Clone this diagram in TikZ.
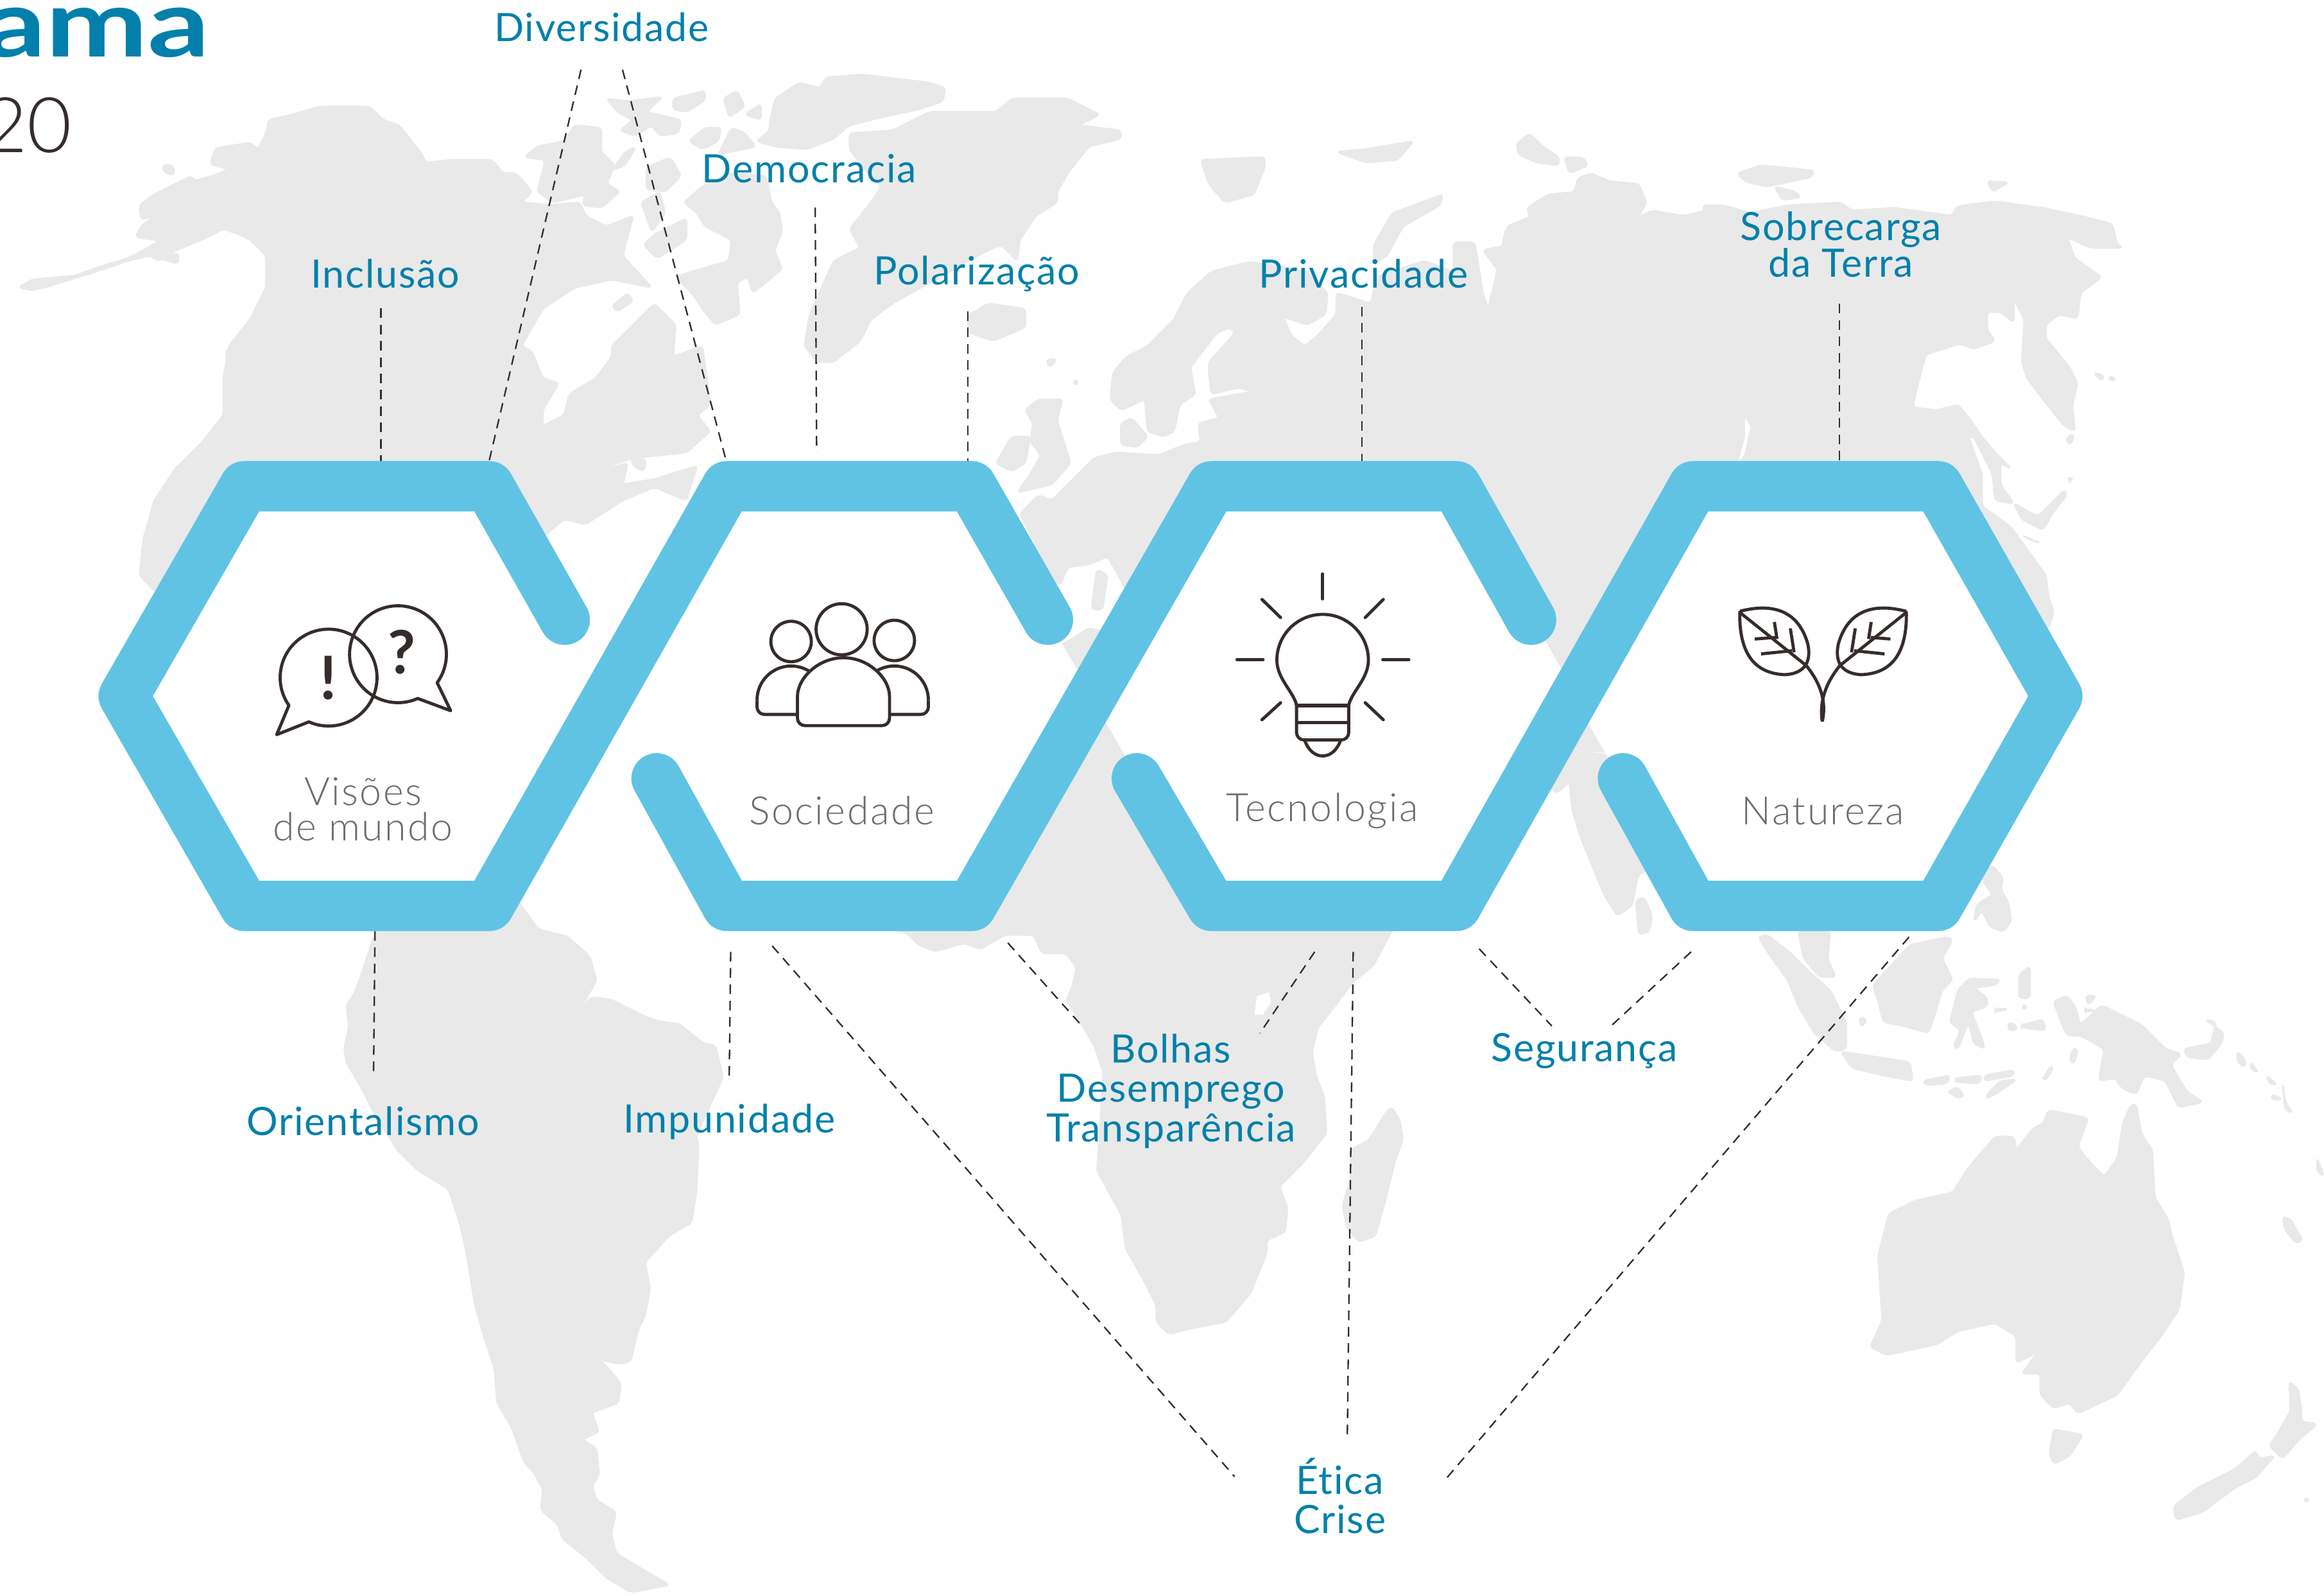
\documentclass[tikz,border=0pt]{standalone}
\usepackage{fontspec}
\newfontfamily\labelfont[LetterSpace=3,Ligatures=NoCommon]{Lato}
\newfontfamily\themefont[LetterSpace=4,Ligatures=NoCommon]{Lato Light}
\newfontfamily\titlefont[FakeStretch=1.3]{Lato}
\newfontfamily\yearfont{Lato Light}
\newfontfamily\markfont{Lato}
\definecolor{mapgray}{HTML}{E9E9E9}
\definecolor{bandblue}{HTML}{60C3E4}
\definecolor{labelblue}{HTML}{0280AB}
\definecolor{hexgray}{HTML}{6F6B6B}
\definecolor{inkdark}{HTML}{352D2B}
\tikzset{
  land/.style={fill=mapgray,draw=mapgray,line width=.25mm,line join=round,rounded corners=.5mm},
  sea/.style={fill=white},
  band/.style={draw=bandblue,line width=6.8mm,line join=round,line cap=round},
  hexfill/.style={fill=white},
  link/.style={draw=inkdark,line width=.2mm,dash pattern=on 1.3mm off .9mm},
  topic/.style={text=labelblue,font=\labelfont\fontsize{15}{15.2}\selectfont,align=center,inner sep=0pt},
  theme/.style={text=hexgray,font=\themefont\fontsize{15}{13.6}\selectfont,align=center,inner sep=0pt},
  icon/.style={draw=inkdark,line width=.42mm,line join=round},
  punct/.style={text=inkdark,font=\markfont\bfseries\fontsize{23}{23}\selectfont,inner sep=0pt},
}
\begin{document}
\begin{tikzpicture}[x=.2mm,y=-.2mm]
\useasboundingbox (0,0) rectangle (1568,1076.5);
% map: north america and arctic
\begin{scope}[shift={(0,21.65)},scale=.359]
\fill[land](35,480)--(60,465)--(92,462)--(140,458)--(190,440)--(240,425)--(270,410)--(300,392)--(255,385)--(265,365)--(292,345)--(265,352)--(262,325)--(290,305)--(330,285)--(360,270)--(365,280)--(400,270)--(430,258)--(395,248)--(405,218)--(470,208)--(485,220)--(500,190)--(505,165)--(550,155)--(600,140)--(695,140)--(720,165)--(750,175)--(790,225)--(800,245)--(850,240)--(925,240)--(945,265)--(970,265)--(1000,300)--(980,320)--(1035,325)--(1090,320)--(1100,345)--(1140,365)--(1190,345)--(1170,420)--(1225,480)--(1150,465)--(1080,480)--(1020,520)--(980,590)--(1000,600)--(1020,650)--(1050,660)--(1020,710)--(1020,740)--(1060,720)--(1070,680)--(1120,650)--(1150,610)--(1150,590)--(1190,550)--(1230,510)--(1270,550)--(1265,610)--(1320,590)--(1335,700)--(1310,720)--(1335,750)--(1290,790)--(1190,800)--(1100,830)--(1180,810)--(1170,850)--(1230,840)--(1310,815)--(1290,880)--(1230,855)--(1170,880)--(1100,925)--(1060,915)--(1025,945)--(800,1100)--(290,1050)--(262,1020)--(270,950)--(290,880)--(330,820)--(380,770)--(420,720)--(420,650)--(430,590)--(470,540)--(500,480)--(500,420)--(470,390)--(450,380)--(420,370)--(380,390)--(330,410)--(300,430)--(280,420)--(240,430)--(180,450)--(90,478)--(60,485)--cycle;
\fill[land](985,235)--(1010,215)--(1060,205)--(1080,175)--(1130,180)--(1130,225)--(1155,250)--(1140,285)--(1165,300)--(1130,330)--(1095,325)--(1100,305)--(1040,320)--(1010,300)--(1025,240)--cycle;
\fill[land](1140,125)--(1180,130)--(1245,122)--(1215,150)--(1280,165)--(1275,190)--(1240,195)--(1225,175)--(1195,195)--(1165,185)--(1190,165)--(1160,150)--cycle;
\fill[land](1265,125)--(1325,110)--(1325,128)--(1290,150)--(1265,145)--cycle;
\fill[land](1360,125)--(1385,110)--(1400,140)--(1370,160)--cycle;
\fill[land](1400,155)--(1430,135)--(1430,165)--cycle;
\fill[land](1295,205)--(1325,180)--(1355,180)--(1350,205)--(1320,220)--cycle;
\fill[land](1375,180)--(1400,190)--(1420,215)--(1350,230)--cycle;
\fill[land](1215,255)--(1260,235)--(1280,270)--(1250,300)--(1215,295)--cycle;
\fill[land](1205,320)--(1240,300)--(1250,340)--(1225,375)--cycle;
\fill[land](1230,380)--(1290,350)--(1290,390)--(1235,425)--(1210,400)--cycle;
\fill[land](1150,260)--(1175,225)--(1195,215)--(1175,250)--cycle;
\fill[land](1150,515)--(1180,490)--(1190,505)--(1160,525)--cycle;
\fill[land](1285,320)--(1320,290)--(1370,265)--(1440,270)--(1450,320)--(1465,340)--(1470,375)--(1455,410)--(1470,445)--(1415,490)--(1405,460)--(1385,470)--(1390,530)--(1345,550)--(1320,520)--(1300,490)--(1270,460)--(1300,450)--(1370,430)--(1375,390)--(1325,365)--(1310,340)--cycle;
\fill[sea](1330,410)--(1355,392)--(1360,405)--(1340,422)--cycle;
\fill[land](1185,795)--(1215,805)--(1210,825)--(1190,815)--cycle;
\fill[land](425,600)--(455,565)--(445,590)--(425,615)--cycle;
\fill[land](305,250)--(325,250)--(328,268)--(310,265)--cycle;
\fill[land](300,425)--(335,415)--(335,435)--cycle;
\end{scope}
% map: greenland, europe, russia
\begin{scope}[shift={(476.3,21.65)},scale=.359]
\fill[land](120,170)--(130,125)--(175,95)--(215,105)--(225,85)--(295,80)--(420,95)--(450,105)--(445,130)--(400,145)--(330,160)--(270,175)--(240,200)--(190,220)--(130,215)--(95,205)--(120,185)--cycle;
\fill[land](270,190)--(350,185)--(420,150)--(545,150)--(575,125)--(680,125)--(740,155)--(700,175)--(780,185)--(780,200)--(720,215)--(680,265)--(660,300)--(660,320)--(620,345)--(590,390)--(585,430)--(555,400)--(530,410)--(440,460)--(350,510)--(310,540)--(290,580)--(240,620)--(210,620)--(185,590)--(195,530)--(240,430)--(290,405)--(270,370)--(310,320)--(330,290)--(300,260)--(270,220)--cycle;
\fill[land](490,535)--(530,510)--(600,520)--(600,555)--(540,580)--(495,565)--cycle;
\fill[land](930,240)--(1050,235)--(1050,255)--(1030,305)--(975,320)--(945,285)--cycle;
\fill[land](1185,225)--(1240,220)--(1330,205)--(1300,240)--(1240,245)--cycle;
\fill[land](1255,400)--(1290,340)--(1385,305)--(1380,325)--(1310,365)--(1280,420)--(1255,435)--cycle;
\fill[land](600,710)--(625,690)--(670,690)--(660,730)--(685,810)--(650,850)--(585,865)--(610,830)--(630,795)--(610,770)--(615,735)--cycle;
\fill[land](545,810)--(575,760)--(610,760)--(600,810)--(575,825)--cycle;
\fill[land](640,615)--(660,615)--(645,630)--cycle;
\fill[land](690,655)--(700,655)--(695,665)--cycle;
\fill[land](735,1010)--(755,1020)--(745,1085)--(725,1085)--(730,1040)--cycle;
\fill[land](795,960)--(825,975)--(810,1000)--(800,985)--cycle;
\fill[land](780,735)--(800,725)--(830,760)--(810,780)--(780,775)--cycle;
\fill[land](760,690)--(765,640)--(790,610)--(830,590)--(880,540)--(905,490)--(950,450)--(1020,432)--(1080,440)--(1130,450)--(1168,490)--(1165,530)--(1130,550)--(1085,535)--(1100,570)--(1125,590)--(1150,570)--(1185,530)--(1185,490)--(1250,510)--(1260,460)--(1350,430)--(1405,450)--(1405,395)--(1445,395)--(1460,490)--(1470,520)--(1480,480)--(1510,475)--(1460,410)--(1505,400)--(1505,365)--(1568,340)--(1568,1100)--(800,1100)--(800,1070)--(775,1020)--(755,985)--(720,1000)--(680,1005)--(665,1040)--(625,1000)--(620,965)--(590,905)--(625,870)--(650,880)--(680,850)--(730,800)--(770,790)--(850,795)--(900,775)--(930,770)--(925,735)--(965,725)--(945,690)--(1030,675)--(1000,668)--(950,680)--(945,640)--(945,620)--(995,565)--(985,555)--(960,565)--(910,630)--(920,680)--(890,700)--(880,750)--(860,760)--(830,750)--(825,690)--(780,710)--cycle;
\end{scope}
% map: siberia, east asia
\begin{scope}[shift={(1005.1,43.3)},scale=.359]
\fill[land](30,310)--(80,300)--(70,270)--(110,245)--(160,240)--(165,215)--(190,205)--(225,220)--(280,225)--(295,260)--(280,285)--(265,295)--(305,275)--(365,285)--(405,275)--(400,265)--(440,265)--(490,280)--(560,265)--(660,260)--(680,275)--(760,270)--(870,285)--(875,270)--(890,265)--(950,258)--(1040,270)--(1110,285)--(1170,300)--(1180,340)--(1190,345)--(1130,345)--(1085,325)--(1100,365)--(1150,400)--(1110,430)--(1105,478)--(1070,470)--(1045,490)--(1045,515)--(1090,570)--(1105,600)--(1095,640)--(1100,690)--(1080,680)--(1040,630)--(1010,590)--(1000,560)--(1005,480)--(985,440)--(985,485)--(960,465)--(935,465)--(935,500)--(950,520)--(910,535)--(885,525)--(820,545)--(805,600)--(795,645)--(840,650)--(880,640)--(905,670)--(925,700)--(955,735)--(980,760)--(960,750)--(960,790)--(985,825)--(950,820)--(945,770)--(910,700)--(900,700)--(925,770)--(925,830)--(980,870)--(1005,905)--(1045,960)--(1050,1000)--(1060,1030)--(1050,1060)--(1000,1100)--(900,1300)--(300,1300)--(100,1281)--(-50,1000)--(-50,700)--cycle;
\fill[sea](480,665)--(490,680)--(478,735)--(468,745)--(480,700)--cycle;
\fill[land](50,150)--(75,130)--(100,155)--(130,175)--(130,190)--(90,185)--(55,170)--cycle;
\fill[land](140,175)--(175,175)--(185,190)--(150,205)--cycle;
\fill[land](465,205)--(510,190)--(610,200)--(605,212)--(520,230)--(480,220)--cycle;
\fill[land](535,230)--(575,240)--(585,250)--(550,255)--cycle;
\fill[land](935,220)--(975,222)--(945,240)--cycle;
\fill[land](1135,580)--(1155,585)--(1150,595)--cycle;
\fill[land](1165,585)--(1178,592)--(1165,595)--cycle;
\fill[land](1085,700)--(1097,695)--(1095,712)--(1085,712)--cycle;
\fill[land](1088,778)--(1094,778)--(1090,786)--cycle;
\fill[land](985,825)--(1030,850)--(1050,830)--(1080,800)--(1085,810)--(1060,840)--(1040,875)--(1000,855)--cycle;
\fill[land](1000,885)--(1035,900)--(1020,895)--cycle;
\end{scope}
% map: india, indonesia, australia
\begin{scope}[shift={(1005.1,513.6)},scale=.359]
\fill[land](110,40)--(125,60)--(150,38)--(155,90)--(170,140)--(190,190)--(215,250)--(240,290)--(268,270)--(278,215)--(300,200)--(300,0)--(100,-30)--cycle;
\fill[land](275,260)--(290,255)--(305,290)--(300,320)--(280,325)--cycle;
\fill[land](505,330)--(520,325)--(560,355)--(600,395)--(640,430)--(670,490)--(670,540)--(650,545)--(610,510)--(580,460)--(560,410)--(530,370)--cycle;
\fill[land](580,320)--(640,320)--(635,370)--(650,405)--(620,405)--(590,370)--cycle;
\fill[land](720,420)--(790,345)--(860,330)--(870,335)--(850,370)--(870,410)--(850,430)--(835,480)--(825,510)--(770,495)--(740,490)--(730,450)--cycle;
\fill[land](925,210)--(945,195)--(965,220)--(960,240)--(975,265)--(980,300)--(965,320)--(940,310)--(925,280)--(910,300)--(915,270)--(945,250)--(930,230)--cycle;
\fill[land](660,545)--(790,565)--(795,600)--(740,590)--(680,575)--cycle;
\fill[land](815,600)--(865,590)--(860,605)--(820,608)--cycle;
\fill[land](875,595)--(925,590)--(920,605)--(875,602)--cycle;
\fill[land](930,590)--(985,580)--(985,590)--(930,600)--cycle;
\fill[land](935,625)--(960,600)--(990,598)--(950,625)--(935,632)--cycle;
\fill[land](860,620)--(880,612)--(892,630)--(880,632)--cycle;
\fill[land](880,430)--(900,408)--(960,410)--(950,420)--(910,425)--(935,445)--(935,460)--(905,470)--(925,520)--(930,540)--(910,530)--(900,490)--(880,540)--(872,535)--(885,505)--(865,490)--(875,450)--cycle;
\fill[land](995,400)--(1015,385)--(1015,445)--(995,445)--cycle;
\fill[land](1000,458)--(1010,458)--(1005,468)--cycle;
\fill[land](975,490)--(990,495)--(990,505)--(975,505)--cycle;
\fill[land](1000,495)--(1040,485)--(1045,505)--(1000,500)--cycle;
\fill[land](950,465)--(975,465)--(950,470)--cycle;
\fill[land](1060,450)--(1085,440)--(1100,460)--(1110,495)--(1150,458)--(1225,495)--(1270,540)--(1300,550)--(1280,570)--(1310,620)--(1340,640)--(1295,650)--(1270,600)--(1230,590)--(1215,625)--(1190,615)--(1175,595)--(1145,600)--(1155,540)--(1110,515)--(1085,515)--(1070,480)--cycle;
\fill[land](1305,540)--(1355,530)--(1365,490)--(1345,485)--(1380,510)--(1375,530)--(1350,560)--(1310,555)--cycle;
\fill[land](1405,545)--(1420,560)--(1420,575)--(1405,565)--cycle;
\fill[land](1430,565)--(1445,585)--(1430,578)--cycle;
\fill[land](1460,590)--(1480,608)--(1465,605)--cycle;
\fill[land](1490,605)--(1495,640)--(1510,660)--(1495,655)--cycle;
\fill[land](1470,625)--(1490,635)--(1470,635)--cycle;
\fill[land](1120,440)--(1140,440)--(1125,458)--cycle;
\fill[land](1120,465)--(1140,468)--(1120,470)--cycle;
\fill[land](1095,540)--(1105,540)--(1100,565)--(1090,565)--cycle;
\fill[land](1040,595)--(1055,572)--(1058,580)--(1045,597)--cycle;
\fill[land](695,482)--(708,482)--(705,495)--(695,495)--cycle;
\fill[land](1050,655)--(1075,660)--(1125,670)--(1105,725)--(1130,755)--(1155,780)--(1180,745)--(1190,680)--(1205,645)--(1215,645)--(1225,700)--(1245,730)--(1250,820)--(1275,860)--(1280,885)--(1295,930)--(1305,960)--(1295,1030)--(1265,1075)--(1215,1140)--(1180,1190)--(1105,1225)--(1090,1205)--(1060,1215)--(1035,1190)--(1035,1150)--(1000,1150)--(1030,1110)--(990,1130)--(990,1080)--(950,1055)--(880,1070)--(840,1095)--(770,1110)--(745,1115)--(715,1100)--(738,1050)--(730,930)--(750,850)--(800,825)--(870,810)--(895,770)--(915,745)--(950,705)--(985,705)--(990,730)--(1020,690)--(1040,680)--cycle;
\fill[land](1060,1255)--(1115,1265)--(1090,1305)--(1060,1320)--(1052,1300)--cycle;
\fill[land](1503,1165)--(1520,1180)--(1525,1215)--(1525,1240)--(1555,1245)--(1520,1275)--(1490,1310)--(1465,1285)--(1480,1265)--(1505,1220)--cycle;
\fill[land](1440,1295)--(1445,1310)--(1475,1305)--(1440,1345)--(1400,1365)--(1340,1410)--(1290,1425)--(1285,1400)--(1330,1365)--(1400,1330)--cycle;
\fill[land](1490,855)--(1505,860)--(1528,900)--(1515,905)--(1495,880)--cycle;
\fill[land](1555,745)--(1568,780)--(1555,770)--cycle;
\fill[land](1530,1385)--(1540,1385)--(1535,1392)--cycle;
\end{scope}
% map: south america
\begin{scope}[shift={(173.2,562.9)},scale=.3276]
\fill[land](245,197)--(215,290)--(200,330)--(185,350)--(190,395)--(180,440)--(185,470)--(215,520)--(240,570)--(290,650)--(330,690)--(395,730)--(415,790)--(430,850)--(450,970)--(470,1040)--(490,1100)--(495,1170)--(525,1220)--(550,1290)--(575,1320)--(590,1350)--(585,1390)--(620,1420)--(630,1450)--(680,1490)--(720,1530)--(770,1560)--(850,1545)--(790,1510)--(740,1480)--(730,1440)--(740,1395)--(700,1370)--(690,1340)--(705,1320)--(700,1265)--(670,1245)--(705,1230)--(690,1190)--(745,1170)--(750,1130)--(725,1100)--(705,1080)--(745,1090)--(770,1085)--(785,1020)--(800,990)--(810,935)--(800,880)--(850,825)--(895,800)--(905,740)--(910,640)--(905,620)--(960,500)--(945,435)--(920,430)--(870,390)--(830,385)--(800,375)--(730,340)--(690,335)--(665,360)--(700,300)--(685,250)--(640,210)--(580,195)--(540,140)--(500,100)--(245,100)--cycle;
\end{scope}
% map: africa
\begin{scope}[shift={(606.2,562.9)},scale=.2762]
\fill[land](0,235)--(20,240)--(50,270)--(90,285)--(160,265)--(200,280)--(260,245)--(330,245)--(350,290)--(410,290)--(435,325)--(425,370)--(410,405)--(440,450)--(480,520)--(500,580)--(490,760)--(485,820)--(545,930)--(555,1010)--(600,1090)--(630,1150)--(630,1190)--(660,1220)--(720,1205)--(800,1190)--(860,1120)--(900,1020)--(900,990)--(945,970)--(950,910)--(930,860)--(990,800)--(1045,730)--(1040,640)--(1020,590)--(1010,530)--(1025,470)--(1065,420)--(1110,360)--(1160,320)--(1205,235)--(1250,100)--(1300,-100)--(900,-300)--(520,-490)--(465,-504)--(414,-472)--(350,-440)--(300,-100)--(-30,200)--cycle;
\fill[sea](875,395)--(905,385)--(910,410)--(890,440)--(870,440)--cycle;
\fill[land](1105,770)--(1150,745)--(1190,680)--(1205,665)--(1225,700)--(1232,745)--(1215,790)--(1190,890)--(1165,980)--(1125,995)--(1095,960)--(1085,905)--(1105,840)--cycle;
\end{scope}
% dashed links
\coordinate (inclusaoA) at (257,208);
\coordinate (inclusaoB) at (257,311);
\coordinate (diversLeftA) at (392,47);
\coordinate (diversLeftB) at (330,311);
\coordinate (diversRightA) at (420,47);
\coordinate (diversRightB) at (490,311);
\coordinate (democraciaA) at (550,140);
\coordinate (democraciaB) at (551,305);
\coordinate (polarizaA) at (653,210);
\coordinate (polarizaB) at (653,311);
\coordinate (privaA) at (919,207);
\coordinate (privaB) at (919,311);
\coordinate (sobreA) at (1241,205);
\coordinate (sobreB) at (1241,311);
\coordinate (orientA) at (253,628);
\coordinate (orientB) at (252,727);
\coordinate (impuneA) at (493,642);
\coordinate (impuneB) at (492,727);
\coordinate (eticaLeftA) at (521,638);
\coordinate (eticaLeftB) at (833,996);
\coordinate (eticaMidA) at (913,642);
\coordinate (eticaMidB) at (909,970);
\coordinate (eticaRightA) at (1288,632);
\coordinate (eticaRightB) at (976,997);
\coordinate (bolhasLeftA) at (680,636);
\coordinate (bolhasLeftB) at (730,692);
\coordinate (bolhasRightA) at (887,642);
\coordinate (bolhasRightB) at (850,697);
\coordinate (segLeftA) at (998,640);
\coordinate (segLeftB) at (1047,692);
\coordinate (segRightA) at (1141,642);
\coordinate (segRightB) at (1087,692);
\draw[link](inclusaoA)--(inclusaoB);
\draw[link](diversLeftA)--(diversLeftB);
\draw[link](diversRightA)--(diversRightB);
\draw[link](democraciaA)--(democraciaB);
\draw[link](polarizaA)--(polarizaB);
\draw[link](privaA)--(privaB);
\draw[link](sobreA)--(sobreB);
\draw[link](orientA)--(orientB);
\draw[link](impuneA)--(impuneB);
\draw[link](eticaLeftA)--(eticaLeftB);
\draw[link](eticaMidA)--(eticaMidB);
\draw[link](eticaRightA)--(eticaRightB);
\draw[link](bolhasLeftA)--(bolhasLeftB);
\draw[link](bolhasRightA)--(bolhasRightB);
\draw[link](segLeftA)--(segLeftB);
\draw[link](segRightA)--(segRightB);
% white hexagons
\foreach \cx in {247.5,573,900,1225}
  \fill[hexfill]({\cx-82.5},328)--({\cx+82.5},328)--({\cx+164},469.5)--({\cx+82.5},611)--({\cx-82.5},611)--({\cx-164},469.5)--cycle;
% blue band
\draw[band](381,418)--(330,328)--(165,328)--(83.5,469.5)--(165,611)--(330,611)--(490.5,328)--(655.5,328)--(707,418);
\draw[band](443,525)--(490.5,611)--(655.5,611)--(817.5,328)--(982.5,328)--(1033,418);
\draw[band](767,525)--(817.5,611)--(982.5,611)--(1142.5,328)--(1307.5,328)--(1388,469.5)--(1307.5,611)--(1142.5,611)--(1095,525);
% icons
\begin{scope}[shift={(0,21.65)},scale=.359]
\draw[icon](543,1265) arc[start angle=145,end angle=474,radius=91]--(520,1320)--cycle;
\draw[icon](785,1252) arc[start angle=66,end angle=396,radius=91]--(847,1275)--cycle;
\node[punct] (bang) at (617,1213) {!};
\node[punct] (query) at (755,1165) {?};
\end{scope}
\begin{scope}[shift={(476.3,21.65)},scale=.359]
\draw[icon](255,1122) circle (48);
\draw[icon](160,1145) circle (38);
\draw[icon](354,1143) circle (38);
\draw[icon,rounded corners=1mm](172,1262) arc[start angle=180,end angle=360,radius=86.5]--(345,1303)--(172,1303)--cycle;
\draw[icon,rounded corners=1mm](172,1282)--(96,1282)--(96,1255);
\draw[icon](96,1255) arc[start angle=180,end angle=304,radius=64];
\draw[icon,rounded corners=1mm](345,1282)--(418,1282)--(418,1255);
\draw[icon](418,1255) arc[start angle=0,end angle=-122,radius=64];
% lamp
\draw[icon](1110,1265) .. controls (1105,1240) and (1073,1215) .. (1073,1180) arc[start angle=180,end angle=360,radius=86] .. controls (1245,1215) and (1213,1240) .. (1208,1265);
\draw[icon,rounded corners=1mm](1110,1265)--(1110,1330)--(1208,1330)--(1208,1265);
\draw[icon,line width=.55mm](1110,1265)--(1208,1265);
\draw[icon](1110,1297)--(1208,1297);
\draw[icon](1125,1330) .. controls (1132,1350) and (1145,1360) .. (1159,1360) .. controls (1173,1360) and (1186,1350) .. (1193,1330);
\draw[icon,line cap=round](1159,1018)--(1159,1065);
\draw[icon,line cap=round](1045,1066)--(1080,1100);
\draw[icon,line cap=round](1273,1066)--(1239,1100);
\draw[icon,line cap=round](998,1179)--(1047,1179);
\draw[icon,line cap=round](1272,1179)--(1321,1179);
\draw[icon,line cap=round](1045,1292)--(1080,1260);
\draw[icon,line cap=round](1273,1292)--(1239,1260);
\end{scope}
\begin{scope}[shift={(1005.1,43.3)},scale=.359]
\draw[icon](470,1028) .. controls (530,1012) and (580,1025) .. (598,1090) .. controls (605,1125) and (590,1145) .. (555,1147) .. controls (500,1145) and (468,1110) .. (470,1028);
\draw[icon](783,1028) .. controls (723,1012) and (673,1025) .. (655,1090) .. controls (648,1125) and (663,1145) .. (698,1147) .. controls (753,1145) and (785,1110) .. (783,1028);
\draw[icon](470,1030)--(595,1130) .. controls (615,1155) and (635,1190) .. (625,1235);
\draw[icon](783,1030)--(658,1130) .. controls (638,1155) and (618,1190) .. (625,1235);
\draw[icon](535,1048)--(540,1080);
\draw[icon](565,1060)--(572,1105);
\draw[icon](498,1080)--(537,1077);
\draw[icon](510,1108)--(568,1102);
\draw[icon](717,1048)--(712,1080);
\draw[icon](687,1060)--(680,1105);
\draw[icon](753,1080)--(716,1077);
\draw[icon](742,1108)--(685,1102);
\end{scope}
% texts
\node[anchor=base east,text=labelblue,font=\titlefont\bfseries\fontsize{36}{36}\selectfont,inner sep=0pt] (titleword) at (142,38.5) {ama};
\node[anchor=base east,text=inkdark,font=\yearfont\fontsize{29.5}{29.5}\selectfont,inner sep=0pt] (titleyear) at (49,102.7) {20};
\node[topic,anchor=base] (diversidade) at (406,28) {Diversidade};
\node[topic,anchor=base] (inclusao) at (260,194) {Inclusão};
\node[topic,anchor=base] (democracia) at (546,123) {Democracia};
\node[topic,anchor=base] (polarizacao) at (659,192) {Polarização};
\node[topic,anchor=base] (privacidade) at (920,194) {Privacidade};
\node[topic] (sobrecarga) at (1242,165) {Sobrecarga\\[-1.2pt]da Terra};
\node[topic,anchor=base] (orientalismo) at (245,766) {Orientalismo};
\node[topic,anchor=base] (impunidade) at (492,764) {Impunidade};
\node[topic] (bolhas) at (790,736) {Bolhas\\Desemprego\\Transparência};
\node[topic,anchor=base] (seguranca) at (1069,716) {Segurança};
\node[topic] (etica) at (904,1009) {Ética\\Crise};
\node[theme] (visoes) at (245,546) {Visões\\de mundo};
\node[theme,anchor=base] (sociedade) at (568,556) {Sociedade};
\node[theme,anchor=base] (tecnologia) at (892,554) {Tecnologia};
\node[theme,anchor=base] (natureza) at (1230,556) {Natureza};
\end{tikzpicture}
\end{document}
